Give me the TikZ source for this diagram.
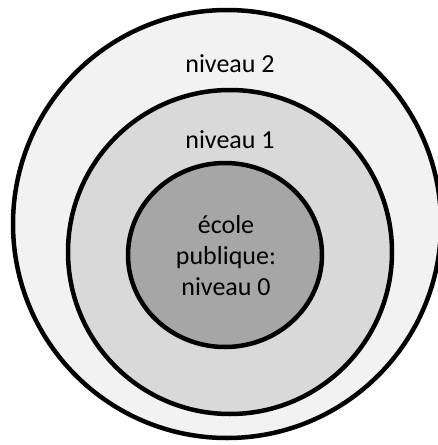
\documentclass[tikz,border=0pt]{standalone}
\usepackage{fontspec}
\setmainfont{Carlito}
\usetikzlibrary{shapes.geometric}
\definecolor{fillA}{HTML}{F2F2F2}
\definecolor{fillB}{HTML}{D9D9D9}
\definecolor{fillC}{HTML}{A6A6A6}
\begin{document}
\begin{tikzpicture}[x=1pt,y=-1pt]
				\tikzstyle{Ring} = [circle, draw, line width=4.5pt, inner sep=0pt]
				\tikzstyle{Label} = [font=\fontsize{26}{31}\selectfont, align=center, inner sep=0pt]
				\useasboundingbox (0,0) rectangle (438,445);
				\clip (0,0) rectangle (438,445);
				\fill[white] (0,0) rectangle (438,445);
				\node (n2) at (227,224) [Ring, fill=fillA, minimum size=428] {};
				\node (n1) at (230,252) [Ring, fill=fillB, minimum size=324] {};
				\node (n0) at (225,255) [ellipse, draw, line width=4.5pt, inner sep=0pt, fill=fillC, minimum width=194, minimum height=184] {};
				\node (t2) at (230,64) [Label] {niveau 2};
				\node (t1) at (230,140) [Label] {niveau 1};
				\node (t0) at (226,256) [Label] {école\\publique:\\niveau 0};
			\end{tikzpicture}
\end{document}
